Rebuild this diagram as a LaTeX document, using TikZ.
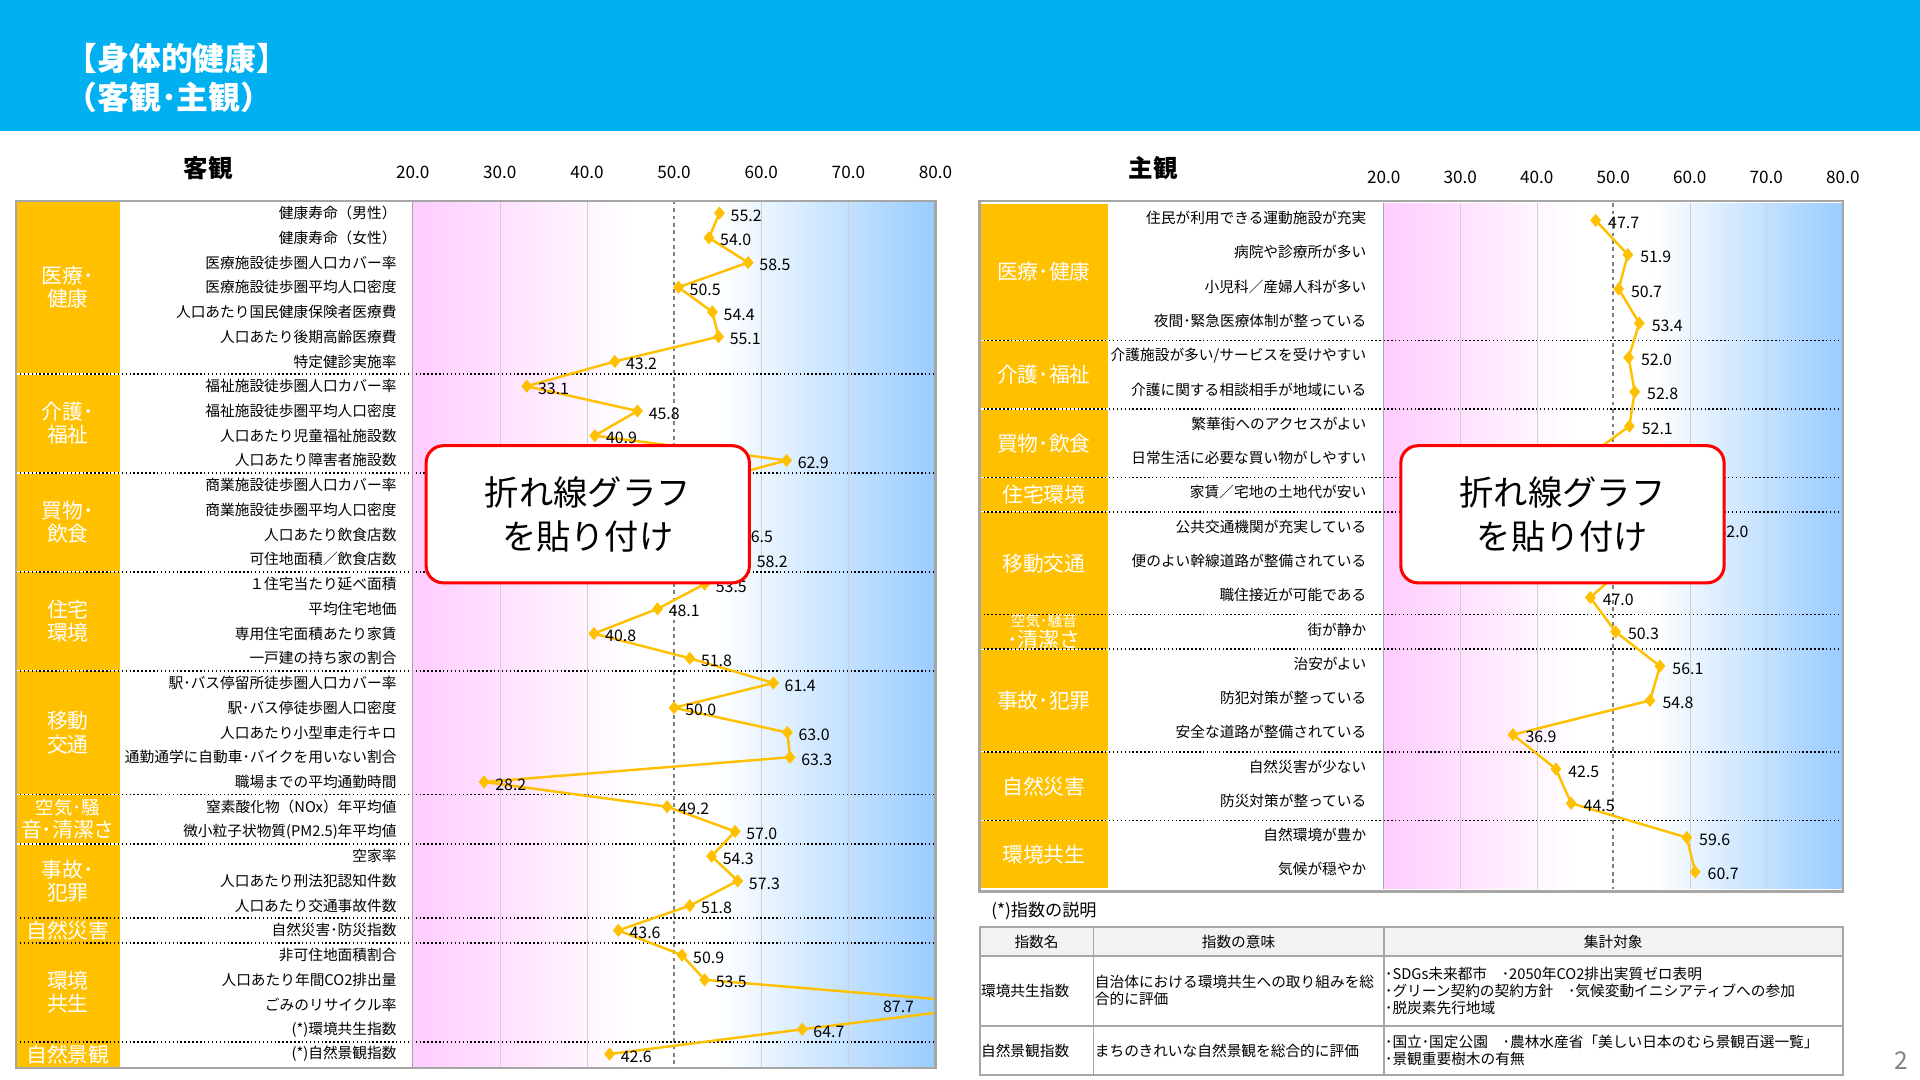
\documentclass[tikz,border=0pt]{standalone}
\usepackage{fontspec}
\setmainfont{Noto Sans CJK JP}
\usetikzlibrary{shapes.geometric,positioning}
\definecolor{hdrblue}{HTML}{00B0F0}
\definecolor{catorange}{HTML}{FFC000}
\definecolor{lowpink}{HTML}{FFCCFF}
\definecolor{highblue}{HTML}{99CCFF}
\definecolor{framegray}{HTML}{A6A6A6}
\definecolor{gridgray}{HTML}{D0D0D0}
\tikzset{
  catbox/.style={fill=catorange,draw=none,text=white,align=center,font=\fontsize{17}{19}\selectfont},
  rowlabel/.style={anchor=east,inner sep=1pt,font=\fontsize{12}{13}\selectfont},
  vallabel/.style={anchor=west,inner sep=1pt,font=\fontsize{13}{14}\selectfont},
  axislabel/.style={font=\fontsize{14}{15}\selectfont},
  dmark/.style={diamond,fill=catorange,inner sep=0pt,minimum width=9pt,minimum height=11pt},
  serline/.style={draw=catorange,line width=2pt,line join=round},
  groupsep/.style={dotted,line width=1.2pt},
  pastebox/.style={draw=red,line width=2.5pt,fill=white,rounded corners=14pt,minimum width=264pt,minimum height=112pt,align=center,font=\fontsize{28}{36}\selectfont},
  tabcell/.style={font=\fontsize{12}{14}\selectfont,align=left,inner sep=1pt}
}
\begin{document}
\begin{tikzpicture}[x=1pt,y=-1pt]
\useasboundingbox (0,0) rectangle (1568,882);
% header
\fill[hdrblue] (0,0) rectangle (1568,107);
\node (title) [anchor=west,text=white,align=left,font=\bfseries\fontsize{26}{32}\selectfont] at (50,64) {【身体的健康】\\（客観･主観）};

% ---------- left: objective ----------
\shade[left color=lowpink,right color=white] (337,164) rectangle (515,871);
\shade[left color=white,right color=highblue] (587,164) rectangle (764,871);
\foreach \g in {30,40,60,70} \draw[gridgray] ({337+(\g-20)*7.117},164) -- ({337+(\g-20)*7.117},871);
\draw[gray,dashed,line width=1.4pt] (550.5,164) -- (550.5,871);
\node (objhead) [font=\bfseries\fontsize{20}{22}\selectfont] at (170,137) {客観};
\foreach \g in {20,30,...,80} \node[axislabel] at ({337+(\g-20)*7.117},141) {\g.0};
\foreach \a/\b/\t [count=\k] in {1/7/{医療･\\健康},8/11/{介護･\\福祉},12/15/{買物･\\飲食},16/19/{住宅\\環境},20/24/{移動\\交通},25/26/{\fontsize{15}{18}\selectfont 空気･騒\\音･清潔さ},27/29/{事故･\\犯罪},30/30/{自然災害},31/34/{環境\\共生},35/35/{自然景観}}
  \node (lcat\k) [catbox,minimum width=85pt,minimum height={(\b-\a+1)*20.2-1}] at (55.5,{164+(\a+\b-1)*10.1}) {\t};
\foreach \t [count=\i] in {健康寿命（男性）,健康寿命（女性）,医療施設徒歩圏人口カバー率,医療施設徒歩圏平均人口密度,人口あたり国民健康保険者医療費,人口あたり後期高齢医療費,特定健診実施率,福祉施設徒歩圏人口カバー率,福祉施設徒歩圏平均人口密度,人口あたり児童福祉施設数,人口あたり障害者施設数,商業施設徒歩圏人口カバー率,商業施設徒歩圏平均人口密度,人口あたり飲食店数,可住地面積／飲食店数,１住宅当たり延べ面積,平均住宅地価,専用住宅面積あたり家賃,一戸建の持ち家の割合,駅･バス停留所徒歩圏人口カバー率,駅･バス停徒歩圏人口密度,人口あたり小型車走行キロ,通勤通学に自動車･バイクを用いない割合,職場までの平均通勤時間,窒素酸化物（NOx）年平均値,微小粒子状物質(PM2.5)年平均値,空家率,人口あたり刑法犯認知件数,人口あたり交通事故件数,自然災害･防災指数,非可住地面積割合,人口あたり年間CO2排出量,ごみのリサイクル率,(*)環境共生指数,(*)自然景観指数}
  \node (lrow\i) [rowlabel] at (325,{174+(\i-1)*20.2}) {\t};
\foreach \r in {7,11,15,19,24,26,29,30,34} \draw[groupsep] (13,{164+\r*20.2}) -- (764,{164+\r*20.2});
\foreach \v [count=\i] in {55.2,54.0,58.5,50.5,54.4,55.1,43.2,33.1,45.8,40.9,62.9,52.3,49.8,56.5,58.2,53.5,48.1,40.8,51.8,61.4,50.0,63.0,63.3,28.2,49.2,57.0,54.3,57.3,51.8,43.6,50.9,53.5,87.7,64.7,42.6}
  \coordinate (L\i) at ({337+(\v-20)*7.117},{174+(\i-1)*20.2});
\begin{scope}
  \clip (337,164) rectangle (764,871);
  \draw[serline] (L1) \foreach \i in {2,...,35} { -- (L\i)};
  \foreach \i in {1,...,35} \node[dmark] at (L\i) {};
\end{scope}
\foreach \v [count=\i] in {55.2,54.0,58.5,50.5,54.4,55.1,43.2,33.1,45.8,40.9,62.9,52.3,49.8,56.5,58.2,53.5,48.1,40.8,51.8,61.4,50.0,63.0,63.3,28.2,49.2,57.0,54.3,57.3,51.8,43.6,50.9,53.5,87.7,64.7,42.6}{
  \pgfmathsetmacro\lx{min(337+(\v-20)*7.117,712)}
  \node[vallabel] at ({\lx+8},{176+(\i-1)*20.2}) {\v};
}
\draw[framegray,line width=1pt] (337,164) -- (337,871);
\draw[framegray,line width=2pt] (13,164) rectangle (764,872);
\node (lpaste) [pastebox] at (480,420) {折れ線グラフ\\を貼り付け};

% ---------- right: subjective ----------
\shade[left color=lowpink,right color=white] (1130,166) rectangle (1286,726);
\shade[left color=white,right color=highblue] (1349,166) rectangle (1505,726);
\foreach \g in {30,40,60,70} \draw[gridgray] ({1130+(\g-20)*6.25},166) -- ({1130+(\g-20)*6.25},726);
\draw[gray,dashed,line width=1.4pt] (1317.5,166) -- (1317.5,726);
\node (subhead) [font=\bfseries\fontsize{20}{22}\selectfont] at (942,137) {主観};
\foreach \g in {20,30,...,80} \node[axislabel] at ({1130+(\g-20)*6.25},145) {\g.0};
\foreach \a/\b/\t [count=\k] in {1/4/{医療･健康},5/6/{介護･福祉},7/8/{買物･飲食},9/9/{住宅環境},10/12/{移動交通},13/13/{\fontsize{12}{12.5}\selectfont 空気･騒音\\･清潔さ},14/16/{事故･犯罪},17/18/{自然災害},19/20/{環境共生}}
  \node (rcat\k) [catbox,inner sep=0pt,minimum width=105pt,minimum height={(\b-\a+1)*28-1},font=\fontsize{17}{17}\selectfont] at (852.5,{166+(\a+\b-1)*14}) {\t};
\foreach \t [count=\i] in {住民が利用できる運動施設が充実,病院や診療所が多い,小児科／産婦人科が多い,夜間･緊急医療体制が整っている,介護施設が多い/サービスを受けやすい,介護に関する相談相手が地域にいる,繁華街へのアクセスがよい,日常生活に必要な買い物がしやすい,家賃／宅地の土地代が安い,公共交通機関が充実している,便のよい幹線道路が整備されている,職住接近が可能である,街が静か,治安がよい,防犯対策が整っている,安全な道路が整備されている,自然災害が少ない,防災対策が整っている,自然環境が豊か,気候が穏やか}
  \node (rrow\i) [rowlabel] at (1117,{178+(\i-1)*28}) {\t};
\foreach \r in {4,6,8,9,12,13,16,18} \draw[groupsep] (800,{166+\r*28}) -- (1505,{166+\r*28});
\foreach \v [count=\i] in {47.7,51.9,50.7,53.4,52.0,52.8,52.1,46.0,50.0,62.0,52.0,47.0,50.3,56.1,54.8,36.9,42.5,44.5,59.6,60.7}
  \coordinate (R\i) at ({1130+(\v-20)*6.25},{180+(\i-1)*28});
\draw[serline] (R1) \foreach \i in {2,...,20} { -- (R\i)};
\foreach \v [count=\i] in {47.7,51.9,50.7,53.4,52.0,52.8,52.1,46.0,50.0,62.0,52.0,47.0,50.3,56.1,54.8,36.9,42.5,44.5,59.6,60.7}{
  \node[dmark] at (R\i) {};
  \node[vallabel] at ({1130+(\v-20)*6.25+9},{182+(\i-1)*28}) {\v};
}
\draw[framegray,line width=1pt] (1130,166) -- (1130,726);
\draw[framegray,line width=2pt] (800,164) rectangle (1505,728);
\node (rpaste) [pastebox] at (1276,420) {折れ線グラフ\\を貼り付け};

% ---------- index legend ----------
\node (legtitle) [anchor=west,font=\fontsize{14}{16}\selectfont] at (806,744) {(*)指数の説明};
\fill[black!5] (800,757) rectangle (1505,781);
\draw[framegray,line width=1.5pt] (800,757) rectangle (1505,878);
\draw[framegray,line width=1.5pt] (800,781) -- (1505,781) (800,838) -- (1505,838) (893,757) -- (893,878) (1130,757) -- (1130,878);
\node (h1) [tabcell] at (846.5,769) {指数名};
\node (h2) [tabcell] at (1011.5,769) {指数の意味};
\node (h3) [tabcell] at (1317.5,769) {集計対象};
\node (c11) [tabcell,anchor=west] at (800,809) {環境共生指数};
\node (c12) [tabcell,anchor=west] at (893,809) {自治体における環境共生への取り組みを総\\合的に評価};
\node (c13) [tabcell,anchor=west] at (1130,809) {･SDGs未来都市\quad ･2050年CO2排出実質ゼロ表明\\･グリーン契約の契約方針\quad ･気候変動イニシアティブへの参加\\･脱炭素先行地域};
\node (c21) [tabcell,anchor=west] at (800,858) {自然景観指数};
\node (c22) [tabcell,anchor=west] at (893,858) {まちのきれいな自然景観を総合的に評価};
\node (c23) [tabcell,anchor=west] at (1130,858) {･国立･国定公園\quad ･農林水産省「美しい日本のむら景観百選一覧」\\･景観重要樹木の有無};
\node (pageno) [text=gray,font=\fontsize{20}{22}\selectfont] at (1553,866) {2};
\end{tikzpicture}
\end{document}
